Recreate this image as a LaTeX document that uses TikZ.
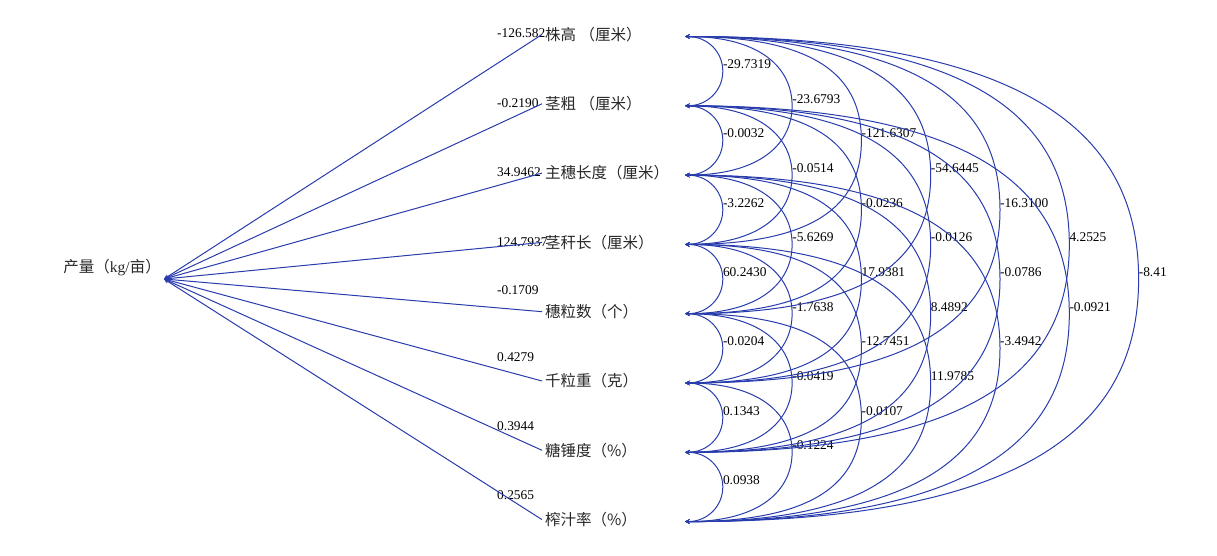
\documentclass[tikz,border=0pt]{standalone}
\usepackage{fontspec}
\setmainfont{Liberation Serif}
\newfontfamily\cjk{Noto Sans CJK SC}
\usetikzlibrary{calc}
\definecolor{pathblue}{RGB}{40,60,172}
\definecolor{txt}{RGB}{40,40,40}

\begin{document}
\begin{tikzpicture}[x=1pt, y=-1pt, >=stealth,
    var/.style={font=\cjk\fontsize{15.5}{18}\selectfont, text=txt, inner sep=3pt},
    coef/.style={font=\fontsize{13.4}{15}\selectfont, text=black, inner sep=0pt},
    link/.style={draw=pathblue, line width=1pt}]
  \useasboundingbox (0,0) rectangle (1217,556);

  % yield
  \node[var, anchor=south east] (yield) at (164,279) {产量（{\rmfamily kg/}亩）};

  % traits and their path coefficients
  \foreach \i/\lab/\val/\ty in {1/株高 （厘米）/-126.582/33, 2/茎粗 （厘米）/-0.2190/103,
      3/主穗长度（厘米）/34.9462/172, 4/茎秆长（厘米）/124.7937/242,
      5/穗粒数（个）/-0.1709/290, 6/千粒重（克）/0.4279/357,
      7/糖锤度（\%）/0.3944/426.5, 8/榨汁率（\%）/0.2565/495} {
    \pgfmathsetmacro\yy{36.5+69.3*(\i-1)}
    \node[var, anchor=west] (v\i) at (542,\yy-2) {\lab};
    \coordinate (c\i) at (685,\yy);
    \node[coef, anchor=west] (p\i) at (497,\ty) {\val};
    \draw[link, <-] (yield.south east) -- (v\i.west);
  }

  % correlations between traits
  \foreach \a/\b/\val in {1/2/-29.7319, 2/3/-0.0032, 3/4/-3.2262, 4/5/60.2430,
      5/6/-0.0204, 6/7/0.1343, 7/8/0.0938,
      1/3/-23.6793, 2/4/-0.0514, 3/5/-5.6269, 4/6/-1.7638, 5/7/-0.0419, 6/8/-0.1224,
      1/4/-121.6307, 2/5/-0.0236, 3/6/17.9381, 4/7/-12.7451, 5/8/-0.0107,
      1/5/-54.6445, 2/6/-0.0126, 3/7/8.4892, 4/8/11.9785,
      1/6/-16.3100, 2/7/-0.0786, 3/8/-3.4942,
      1/7/4.2525, 2/8/-0.0921,
      1/8/-8.41} {
    \pgfmathsetmacro\rx{69.3*(\b-\a)-31.5}
    \pgfmathsetmacro\kk{min(0.8,0.5+0.1*(\b-\a))}
    \pgfmathsetmacro\hx{\kk*\rx}
    \pgfmathsetmacro\hy{0.55*34.65*(\b-\a)}
    \coordinate (m\a\b) at ($(c\a)!0.5!(c\b)+(\rx,0)$);
    \draw[link, <->] (c\a) .. controls +(\hx,0) and +(0,-\hy) .. (m\a\b)
      .. controls +(0,\hy) and +(\hx,0) .. (c\b);
    \node[coef, anchor=west, yshift=7pt] (n\a\b) at (m\a\b) {\val};
  }
\end{tikzpicture}
\end{document}
